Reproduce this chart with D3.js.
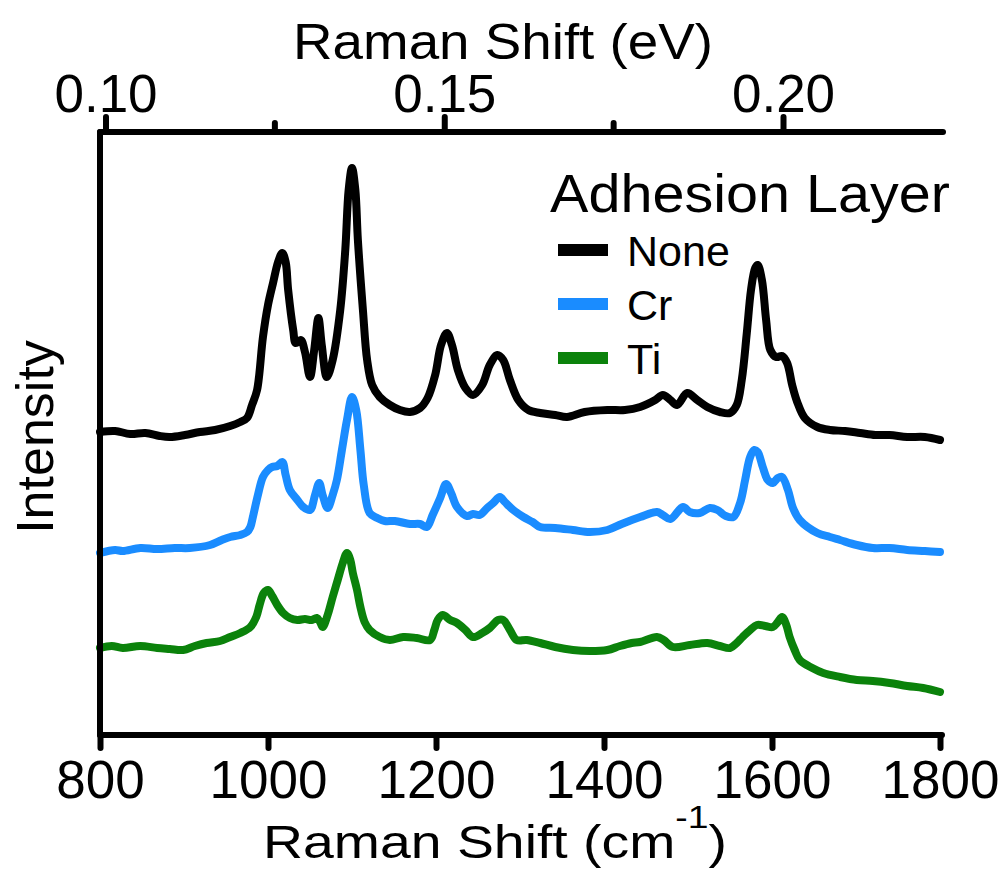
<!DOCTYPE html>
<html>
<head>
<meta charset="utf-8">
<script src="https://cdn.jsdelivr.net/npm/d3@7"></script>
<style>
  body { margin: 0; background: #fff; }
  svg { display: block; font-family: "Liberation Sans", Arial, sans-serif; }
</style>
</head>
<body>
<svg id="chart" width="1004" height="874"></svg>
<script>
// spectra: [raman shift (cm-1), intensity (a.u., offset per trace)]
var noneSpectrum = [
    [800,303],[818,304],[836,301],[854,302],[871,299],[883,298],[901,300],[919,303],[937,305],[955,309],
    [967,313],[975,317],[981,330],[987,345],[994,398],[1000,430],[1006,452],[1012,473],[1017,482],[1021,473],
    [1024,445],[1030,405],[1033,392],[1039,395],[1044,383],[1050,358],[1055,385],[1060,417],[1064,390],[1070,358],
    [1077,375],[1086,425],[1092,485],[1096,545],[1100,567],[1104,545],[1107,495],[1113,425],[1118,375],[1124,350],
    [1133,338],[1145,330],[1157,325],[1169,323],[1181,327],[1190,337],[1199,360],[1206,390],[1213,402],[1219,390],
    [1226,365],[1235,347],[1244,340],[1255,350],[1264,370],[1273,380],[1280,375],[1288,355],[1298,335],[1310,325],
    [1324,322],[1342,320],[1356,318],[1377,323],[1404,325],[1425,325],[1443,328],[1461,335],[1470,340],[1479,335],
    [1487,330],[1499,342],[1511,335],[1523,328],[1538,323],[1550,322],[1558,330],[1564,355],[1570,402],[1575,445],
    [1580,467],[1583,470],[1588,455],[1593,415],[1598,385],[1605,378],[1612,379],[1618,372],[1624,350],[1630,333],
    [1639,317],[1654,308],[1669,305],[1687,304],[1705,302],[1723,300],[1740,300],[1761,298],[1782,298],[1800,295]
];

var crSpectrum = [
    [800,182],[818,185],[827,184],[848,187],[868,186],[889,187],[907,187],[931,190],[945,195],[955,198],
    [967,200],[975,203],[979,208],[982,218],[988,240],[994,258],[1000,265],[1005,268],[1011,269],[1017,273],
    [1021,260],[1026,245],[1035,235],[1042,228],[1050,225],[1056,240],[1061,252],[1065,240],[1071,227],[1077,240],
    [1082,255],[1088,285],[1094,315],[1100,338],[1105,325],[1110,285],[1114,250],[1121,222],[1130,217],[1139,214],
    [1151,214],[1169,211],[1181,211],[1189,208],[1196,220],[1205,237],[1212,251],[1218,242],[1225,228],[1237,219],
    [1244,221],[1252,220],[1261,227],[1268,232],[1276,238],[1282,233],[1292,225],[1304,218],[1315,213],[1324,208],
    [1342,207],[1363,205],[1383,203],[1404,205],[1421,211],[1443,218],[1463,223],[1470,220],[1479,216],[1494,228],
    [1502,223],[1514,222],[1526,227],[1535,225],[1545,219],[1554,218],[1562,232],[1568,255],[1574,278],[1579,285],
    [1583,283],[1589,268],[1595,255],[1601,252],[1607,257],[1612,258],[1619,245],[1625,227],[1633,215],[1654,202],
    [1669,198],[1681,195],[1701,190],[1720,187],[1740,187],[1761,185],[1782,184],[1800,183]
];

var tiSpectrum = [
    [800,87],[814,89],[827,87],[848,89],[868,87],[883,86],[899,85],[913,89],[927,92],[943,94],
    [955,98],[967,102],[979,108],[986,118],[990,130],[995,142],[1000,145],[1005,139],[1011,130],[1018,122],
    [1026,117],[1035,115],[1044,116],[1052,115],[1058,117],[1062,113],[1065,108],[1071,120],[1077,138],[1083,155],
    [1089,172],[1094,182],[1098,175],[1101,162],[1106,145],[1110,128],[1115,113],[1121,105],[1133,98],[1145,95],
    [1161,98],[1177,97],[1193,95],[1198,105],[1202,115],[1208,120],[1217,115],[1225,112],[1235,105],[1244,98],
    [1255,102],[1264,107],[1274,115],[1280,115],[1288,105],[1296,95],[1308,95],[1324,92],[1342,88],[1363,85],
    [1383,84],[1404,85],[1419,89],[1433,92],[1443,93],[1463,98],[1471,95],[1482,88],[1502,90],[1523,92],
    [1538,89],[1550,87],[1558,92],[1565,98],[1574,105],[1582,110],[1592,109],[1601,108],[1607,113],[1612,118],
    [1617,110],[1621,98],[1627,85],[1633,75],[1648,67],[1661,62],[1681,58],[1701,55],[1720,54],[1740,52],
    [1761,49],[1780,47],[1800,43]
];

var seriesNames = ["None", "Cr", "Ti"];
var seriesColors = ["#000000", "#1a8cff", "#0b820b"];
var cmTicks = [800, 1000, 1200, 1400, 1600, 1800];
var evMajorTicks = [0.10, 0.15, 0.20];
var evMinorTicks = [0.125, 0.175];
var CM_PER_EV = 8065.54;

var svg = d3.select("#chart");
var plotLeft = 100, plotRight = 940, plotTop = 132, plotBottom = 735;

var x = d3.scaleLinear().domain([800, 1800]).range([plotLeft, plotRight]);
var xEv = d3.scaleLinear().domain([800 / CM_PER_EV, 1800 / CM_PER_EV]).range([plotLeft, plotRight]);
var y = d3.scaleLinear().domain([0, 603]).range([plotBottom, plotTop]);

// stretch a text horizontally so it spans the given width
function fitWidth(sel, w) {
    var bw = sel.node().getBBox().width;
    sel.attr("transform", "scale(" + (w / bw) + ",1)");
}

// spectra
var line = d3.line()
    .x(function(d) { return x(d[0]); })
    .y(function(d) { return y(d[1]); })
    .curve(d3.curveCatmullRom.alpha(0.5));

var spectra = [noneSpectrum, crSpectrum, tiSpectrum];
for (var i = 2; i >= 0; i--) {
    svg.append("path")
        .datum(spectra[i])
        .attr("d", line)
        .attr("fill", "none")
        .attr("stroke", seriesColors[i])
        .attr("stroke-width", 8)
        .attr("stroke-linejoin", "round")
        .attr("stroke-linecap", "round");
}

// bottom axis
var gBottom = svg.append("g")
    .attr("transform", "translate(0," + plotBottom + ")")
    .call(d3.axisBottom(x).tickValues(cmTicks).tickSize(13).tickSizeOuter(0).tickFormat(d3.format("d")));

// top axis (eV)
var gTop = svg.append("g")
    .attr("transform", "translate(0," + plotTop + ")")
    .call(d3.axisTop(xEv).tickValues(evMajorTicks).tickSize(15).tickSizeOuter(0).tickFormat(d3.format(".2f")));
gTop.selectAll(".minor")
    .data(evMinorTicks)
    .enter()
    .append("line")
    .attr("class", "minor")
    .attr("x1", function(d) { return xEv(d); })
    .attr("x2", function(d) { return xEv(d); })
    .attr("y1", 0)
    .attr("y2", -9);

// left axis, line only
var gLeft = svg.append("g")
    .attr("transform", "translate(" + plotLeft + ",0)")
    .call(d3.axisLeft(y).tickValues([]).tickSizeOuter(0));

svg.selectAll(".domain, .tick line, .minor")
    .attr("stroke", "#000")
    .attr("stroke-width", 6)
    .attr("stroke-linecap", "round");
gBottom.select(".domain").attr("d", "M" + plotLeft + ",0H" + (plotRight + 2));
gTop.select(".domain").attr("d", "M" + plotLeft + ",0H" + (plotRight + 3));
gLeft.select(".domain").attr("d", "M0," + plotTop + "V" + plotBottom);

svg.selectAll(".tick text")
    .attr("font-family", "'Liberation Sans', Arial, sans-serif")
    .attr("font-size", 53)
    .attr("fill", "#000");
gBottom.selectAll(".tick text").attr("y", 63).attr("dy", null);
gTop.selectAll(".tick text").attr("y", -20).attr("dy", null);

// axis titles
var topTitle = svg.append("g").attr("transform", "translate(503,59)")
    .append("text")
    .attr("text-anchor", "middle")
    .attr("font-size", 49)
    .text("Raman Shift (eV)");
fitWidth(topTitle, 420);

var bottomTitle = svg.append("g").attr("transform", "translate(495,858)")
    .append("text")
    .attr("text-anchor", "middle")
    .attr("font-size", 46);
bottomTitle.append("tspan").text("Raman Shift (cm");
bottomTitle.append("tspan").attr("font-size", 31).attr("dy", -30).text("-1");
bottomTitle.append("tspan").attr("dy", 30).text(")");
fitWidth(bottomTitle, 464);

svg.append("text")
    .attr("transform", "translate(53,437) rotate(-90)")
    .attr("text-anchor", "middle")
    .attr("font-size", 52)
    .text("Intensity");

// legend
var legendTitle = svg.append("g").attr("transform", "translate(550,212)")
    .append("text")
    .attr("font-size", 53)
    .text("Adhesion Layer");
fitWidth(legendTitle, 400);

var legendY = [250, 304, 358];
var legend = svg.selectAll(".legend-item")
    .data(seriesNames)
    .enter()
    .append("g")
    .attr("class", "legend-item")
    .attr("transform", function(d, i) { return "translate(0," + legendY[i] + ")"; });

legend.append("line")
    .attr("x1", 558)
    .attr("x2", 608)
    .attr("stroke", function(d, i) { return seriesColors[i]; })
    .attr("stroke-width", 12);

legend.append("text")
    .attr("x", 627)
    .attr("y", 16)
    .attr("font-size", 43)
    .text(function(d) { return d; });
</script>
</body>
</html>
